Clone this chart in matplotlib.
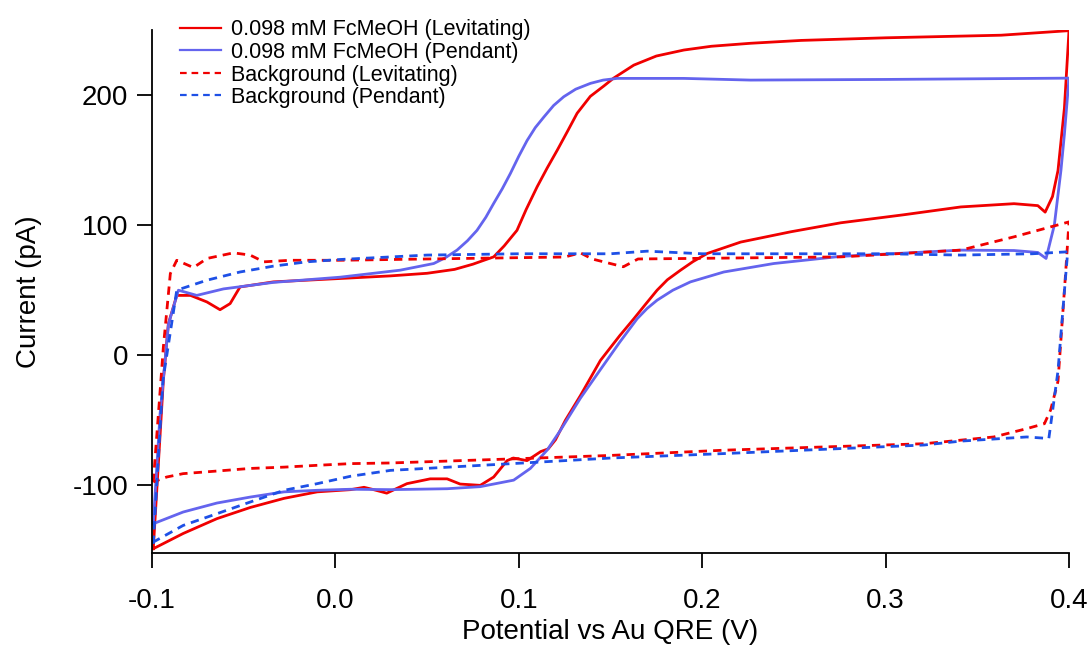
import matplotlib
matplotlib.use("Agg")
import matplotlib.pyplot as plt

plt.rcParams['font.family'] = ['Liberation Sans', 'DejaVu Sans']
plt.rcParams['axes.unicode_minus'] = False

# ---- data (potential in V, current in pA) ----
lev_x = [-0.0993, -0.0938, -0.0911, -0.0865, -0.079, -0.0701, -0.0629, -0.0574, -0.052,
         -0.0338, 0.0026, 0.03, 0.05, 0.065, 0.075, 0.081, 0.0863, 0.092, 0.099, 0.104,
         0.110, 0.1155, 0.121, 0.1265, 0.1318, 0.139, 0.1464, 0.1517, 0.1627, 0.175,
         0.19, 0.205, 0.2264, 0.254, 0.30, 0.363, 0.4,
         0.3975, 0.394, 0.391, 0.387, 0.383, 0.37, 0.341, 0.31, 0.2755, 0.2483, 0.221,
         0.2027, 0.195, 0.1882, 0.181, 0.1754, 0.169, 0.1627, 0.155, 0.1445, 0.1336,
         0.1254, 0.12, 0.116, 0.112, 0.1045, 0.097, 0.0936, 0.0863, 0.079, 0.068, 0.0609,
         0.0517, 0.039, 0.028, 0.020, 0.0156, 0.0083, -0.0099, -0.028, -0.0464, -0.0646,
         -0.083, -0.0993]
lev_y = [-148.7, -19, 24, 46, 46, 41, 35, 39.7, 52.5,
         56.4, 59, 61, 63, 66, 70, 73, 75.6, 84, 96, 112,
         129.5, 144, 157.7, 172, 186, 199, 207, 213, 223, 230,
         234.6, 237.5, 239.8, 242, 244, 246, 249.5,
         190, 142, 122, 110, 115, 116.5, 114, 108, 101.8, 94.9, 87,
         78.2, 72, 65.4, 58, 50, 39, 28, 15, -4, -31,
         -50, -65, -72, -74, -81, -79, -81, -93.6, -100, -99, -95,
         -95, -98.7, -106, -103, -101.5, -103.3, -105, -110, -117, -125.6,
         -137, -148.7]

pen_x = [-0.0993, -0.0956, -0.091, -0.0856, -0.0756, -0.061, -0.0338, 0.0026, 0.0354,
         0.0536, 0.060, 0.0663, 0.072, 0.0772, 0.082, 0.0863, 0.091, 0.0954, 0.100,
         0.1045, 0.109, 0.1136, 0.119, 0.1245, 0.131, 0.1391, 0.146, 0.1536,
         0.19, 0.2264, 0.30, 0.4,
         0.3975, 0.3956, 0.392, 0.3875, 0.383, 0.37, 0.341, 0.31, 0.2755, 0.239, 0.2118,
         0.1936, 0.184, 0.1754, 0.170, 0.1645, 0.155, 0.145, 0.1336, 0.1227, 0.1154,
         0.1063, 0.0972, 0.079, 0.061, 0.030, 0.0083, -0.0099, -0.028, -0.0464, -0.0646,
         -0.083, -0.0993]
pen_y = [-129.5, -45, 24, 50, 46, 51, 56, 60, 65.4,
         70.5, 75, 80.8, 88, 96, 106, 116.7, 128, 139.7, 153,
         165, 175, 183, 192, 198.7, 204.5, 209, 211.5, 212.8,
         212.8, 211.5, 212, 213,
         170, 142, 100, 74.4, 79, 80.5, 80.8, 78.5, 76, 70.5, 64,
         56.4, 50, 42.3, 36, 28, 10, -10, -33, -57.7, -73,
         -87, -96, -101, -102.6, -103.3, -103, -103.8, -105, -109, -113.6,
         -120.5, -129.5]

bg_lev_x = [-0.0993, -0.0965, -0.0938, -0.090, -0.0865, -0.0774, -0.070, -0.0556, -0.0465,
            -0.039, -0.0247, 0.0026, 0.05, 0.10, 0.125, 0.1336, 0.14, 0.157, 0.165, 0.2,
            0.2755, 0.341, 0.37, 0.4,
            0.398, 0.394, 0.390, 0.3866, 0.377, 0.359, 0.321, 0.266, 0.2115, 0.15, 0.10,
            0.030, 0.0083, -0.0099, -0.028, -0.0464, -0.0646, -0.083, -0.092, -0.0993]
bg_lev_y = [-97.4, -45, 6.4, 62.8, 73, 67.4, 74.4, 78.7, 77,
            71.8, 73, 73, 74, 75, 75.5, 78.7, 74, 68, 74, 74.5,
            75.6, 80.8, 91, 102.5,
            60, -20, -42, -52.6, -56.4, -62.8, -68, -70.5, -73, -77, -79.5,
            -82.8, -83.3, -84.6, -86, -87, -89, -91, -93.6, -97.4]

bg_pen_x = [-0.0993, -0.094, -0.0865, -0.070, -0.052, -0.0338, -0.0156, 0.0026, 0.05,
            0.10, 0.15, 0.17, 0.20, 0.30, 0.341, 0.38, 0.3993,
            0.398, 0.394, 0.389, 0.377, 0.341, 0.321, 0.2115, 0.15, 0.10, 0.030, 0.0083,
            -0.0099, -0.028, -0.0464, -0.0646, -0.083, -0.0993]
bg_pen_y = [-145, -19, 50, 57.7, 64, 68.5, 71.8, 73.6, 77,
            78, 78, 80, 78, 78, 77, 78, 79.5,
            58, -12, -64, -62.8, -66, -69, -75.6, -79, -83, -88.5, -93,
            -98.7, -103.8, -112.8, -121.8, -130.8, -143.6]

labels = ["0.098 mM FcMeOH (Levitating)", "0.098 mM FcMeOH (Pendant)",
          "Background (Levitating)", "Background (Pendant)"]
x_ticks = [-0.1, 0.0, 0.1, 0.2, 0.3, 0.4]
y_ticks = [-100, 0, 100, 200]

# ---- figure ----
W, H = 1092, 648
fig = plt.figure(figsize=(W / 100, H / 100), dpi=100)
ax_l, ax_r, ax_t, ax_b = 152, 1069, 30, 553
ax = fig.add_axes([ax_l / W, 1 - ax_b / H, (ax_r - ax_l) / W, (ax_b - ax_t) / H])

red = '#f00000'
blue_s = '#6464ee'
blue_d = '#1e50e6'
lw = 2.0
ax.plot(lev_x, lev_y, color=red, lw=lw, label=labels[0])
ax.plot(pen_x, pen_y, color=blue_s, lw=lw, label=labels[1])
ax.plot(bg_lev_x, bg_lev_y, color=red, lw=lw, ls=(0, (3.0, 2.2)), label=labels[2])
ax.plot(bg_pen_x, bg_pen_y, color=blue_d, lw=lw, ls=(0, (3.0, 2.2)), label=labels[3])

ax.set_xlim(-0.1, 0.4)
ax.set_ylim(-152, 250)
ax.set_xticks(x_ticks)
ax.set_xticklabels([f"{v:.1f}" for v in x_ticks])
ax.set_yticks(y_ticks)
ax.set_yticklabels([str(v) for v in y_ticks])

for s in ['top', 'right']:
    ax.spines[s].set_visible(False)
for s in ['left', 'bottom']:
    ax.spines[s].set_linewidth(1.3)
ax.tick_params(axis='both', direction='out', length=11, width=1.3, labelsize=20)
ax.tick_params(axis='y', pad=6)
ax.tick_params(axis='x', pad=14)

ax.set_xlabel("Potential vs Au QRE (V)", fontsize=20)
ax.set_ylabel("Current (pA)", fontsize=20)
ax.xaxis.set_label_coords(0.5, (ax_b - 619) / (ax_b - ax_t))
ax.yaxis.set_label_coords((42 - ax_l) / (ax_r - ax_l), 0.5)

leg = ax.legend(loc='upper left', bbox_to_anchor=(180 / W, 1 - 19.5 / H),
                bbox_transform=fig.transFigure, frameon=False, fontsize=15.5,
                handlelength=1.9, handletextpad=0.47, labelspacing=0.07,
                borderpad=0, borderaxespad=0)
for h in leg.get_lines():
    h.set_linewidth(1.6)

fig.savefig("out.png", dpi=100)
